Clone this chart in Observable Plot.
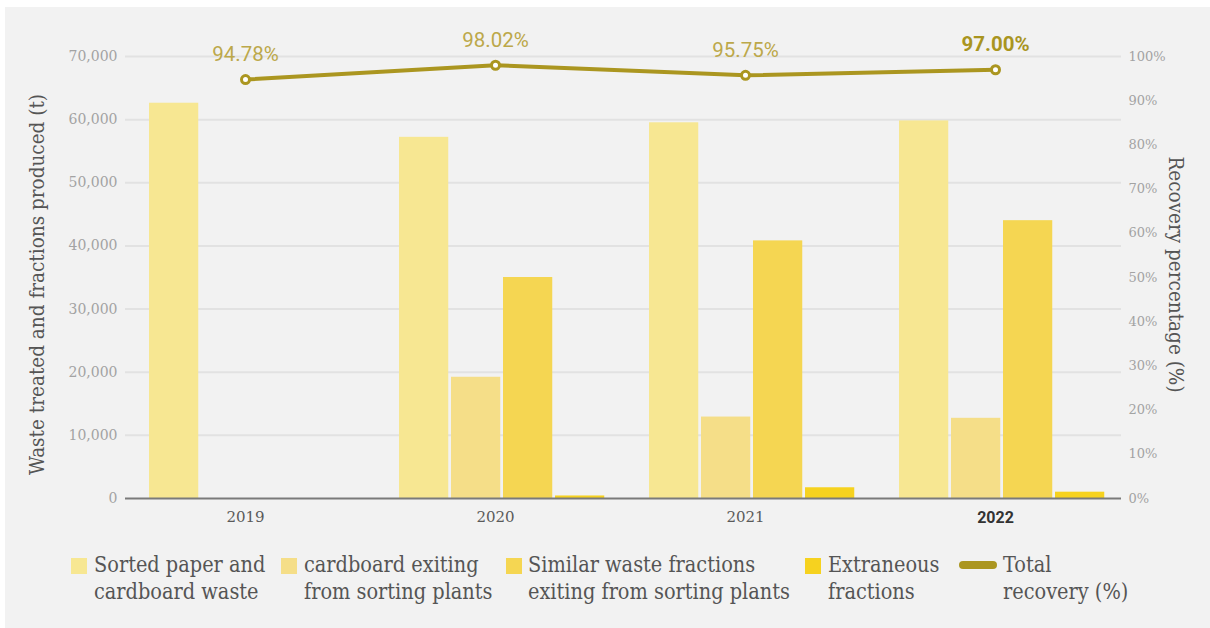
<!DOCTYPE html>
<html>
<head>
<meta charset="utf-8">
<script src="https://cdn.jsdelivr.net/npm/d3@7"></script>
<script src="https://cdn.jsdelivr.net/npm/@observablehq/plot@0.6"></script>
<style>
  html, body { margin: 0; padding: 0; background: #ffffff; }
  #card { position: absolute; left: 5px; top: 7px; width: 1205px; height: 621px; background: #f2f2f2; overflow: hidden; }
  #chart { position: absolute; left: 0; top: 0; }
  #legend { position: absolute; left: 0; top: 544px; width: 1205px; height: 70px;
            font-family: "DejaVu Serif", serif; font-stretch: condensed; font-size: 21.5px; color: #555; line-height: 27px; }
  .sw { position: absolute; top: 7px; width: 16px; height: 16px; }
  .ln { position: absolute; top: 10px; width: 38px; height: 8px; border-radius: 4px; }
  .lab { position: absolute; top: 0; white-space: pre; }
</style>
</head>
<body>
<div id="card">
  <div id="chart"></div>
  <div id="legend"></div>
</div>
<script>
// ---- data ----
const years = ["2019", "2020", "2021", "2022"];
const highlightYear = "2022";
const sortedWaste        = [62600, 57200, 59500, 59800];
const cardboardExiting   = [null, 19200, 12900, 12700];
const similarFractions   = [null, 35000, 40800, 44000];
const extraneousFractions = [null, 400, 1700, 1000];
const totalRecovery = [94.78, 98.02, 95.75, 97.00];
const leftTicks = [0, 10000, 20000, 30000, 40000, 50000, 60000, 70000];
const rightTicks = [0, 10, 20, 30, 40, 50, 60, 70, 80, 90, 100];
const legendLabels = [
  "Sorted paper and\ncardboard waste",
  "cardboard exiting\nfrom sorting plants",
  "Similar waste fractions\nexiting from sorting plants",
  "Extraneous\nfractions",
  "Total\nrecovery (%)"
];

// ---- styles ----
const barColors = ["#f7e792", "#f5de88", "#f5d652", "#f6d21f"];
const lineColor = "#ab9620";
const SLAB = "'DejaVu Serif', serif";
const SLAB_COND = "'DejaVu Serif Condensed', 'DejaVu Serif', serif";
const PCT_SCALE = 70000 / 100; // right axis 100% aligned to 70,000 t

const RANGE = [113, 1116];
const BAND = (RANGE[1] - RANGE[0]) / years.length;
const GROUP_OFFSET = 29, BAR_STEP = 52, BAR_W = 50;

const seriesValues = [sortedWaste, cardboardExiting, similarFractions, extraneousFractions];
const barMarks = seriesValues.map((vals, i) =>
  Plot.barY(
    years.map((y, j) => ({year: y, value: vals[j]})).filter(d => d.value != null),
    {x: "year", y: "value", fill: barColors[i],
     insetLeft: GROUP_OFFSET + i * BAR_STEP,
     insetRight: BAND - (GROUP_OFFSET + i * BAR_STEP + BAR_W)}
  )
);

const lineData = years.map((y, i) => ({year: y, pct: totalRecovery[i]}));
const pctY = d => d.pct * PCT_SCALE;

const chart = Plot.plot({
  width: 1205,
  height: 535,
  marginLeft: 120,
  marginRight: 89,
  marginTop: 49,
  marginBottom: 44,
  style: {background: "transparent", overflow: "visible", fontFamily: SLAB},
  x: {domain: years, range: RANGE, padding: 0},
  y: {domain: [0, 70000]},
  marks: [
    Plot.ruleY(leftTicks.filter(d => d > 0), {stroke: "#e2e2e2", strokeWidth: 2}),
    ...barMarks,
    Plot.ruleY([0], {stroke: "#7a7a7a", strokeWidth: 2}),
    Plot.axisY({ticks: leftTicks, tickFormat: d3.format(","), tickSize: 0, tickPadding: 8,
                fontSize: 14, color: "#a3a3a3", fontFamily: SLAB, label: null}),
    Plot.axisY({anchor: "right", ticks: rightTicks.map(p => p * PCT_SCALE),
                tickFormat: d => Math.round(d / PCT_SCALE) + "%", tickSize: 0, tickPadding: 7,
                fontSize: 13, color: "#a3a3a3", fontFamily: SLAB, label: null}),
    Plot.axisX({ticks: years.filter(y => y !== highlightYear), tickSize: 0, tickPadding: 13,
                fontSize: 15, color: "#5a5a5a", fontFamily: SLAB, label: null}),
    Plot.axisX({ticks: [highlightYear], tickSize: 0, tickPadding: 13,
                fontSize: 16, color: "#333", fontWeight: "bold", fontFamily: "Roboto", label: null}),
    Plot.line(lineData, {x: "year", y: pctY, stroke: lineColor, strokeWidth: 4}),
    Plot.dot(lineData, {x: "year", y: pctY, r: 4, fill: "white", stroke: lineColor, strokeWidth: 3}),
    Plot.text(lineData.filter(d => d.year !== highlightYear),
              {x: "year", y: pctY, text: d => d.pct.toFixed(2) + "%", dy: -25,
               fill: "#bca84a", fontSize: 20.5, fontFamily: "Roboto"}),
    Plot.text(lineData.filter(d => d.year === highlightYear),
              {x: "year", y: pctY, text: d => d.pct.toFixed(2) + "%", dy: -25,
               fill: "#a9951f", fontSize: 20.5, fontWeight: "bold", fontFamily: "Roboto"}),
    Plot.text(["Waste treated and fractions produced (t)"],
              {frameAnchor: "left", textAnchor: "middle", rotate: -90, dx: -88, dy: 7,
               fontSize: 20.5, fill: "#555", fontFamily: SLAB_COND}),
    Plot.text(["Recovery percentage (%)"],
              {frameAnchor: "right", textAnchor: "middle", rotate: 90, dx: 54, dy: -3,
               fontSize: 20.5, fill: "#555", fontFamily: SLAB_COND})
  ]
});
document.getElementById("chart").appendChild(chart);

// ---- legend ----
const legendPos = [[66, 89], [276, 299], [501, 523], [800, 823], [954, 998]];
const legend = document.getElementById("legend");
legendLabels.forEach((lab, i) => {
  const [sx, tx] = legendPos[i];
  const mark = document.createElement("div");
  if (i < barColors.length) { mark.className = "sw"; mark.style.background = barColors[i]; }
  else { mark.className = "ln"; mark.style.background = lineColor; }
  mark.style.left = sx + "px";
  legend.appendChild(mark);
  const t = document.createElement("div");
  t.className = "lab";
  t.style.left = tx + "px";
  t.textContent = lab;
  legend.appendChild(t);
});
</script>
</body>
</html>
